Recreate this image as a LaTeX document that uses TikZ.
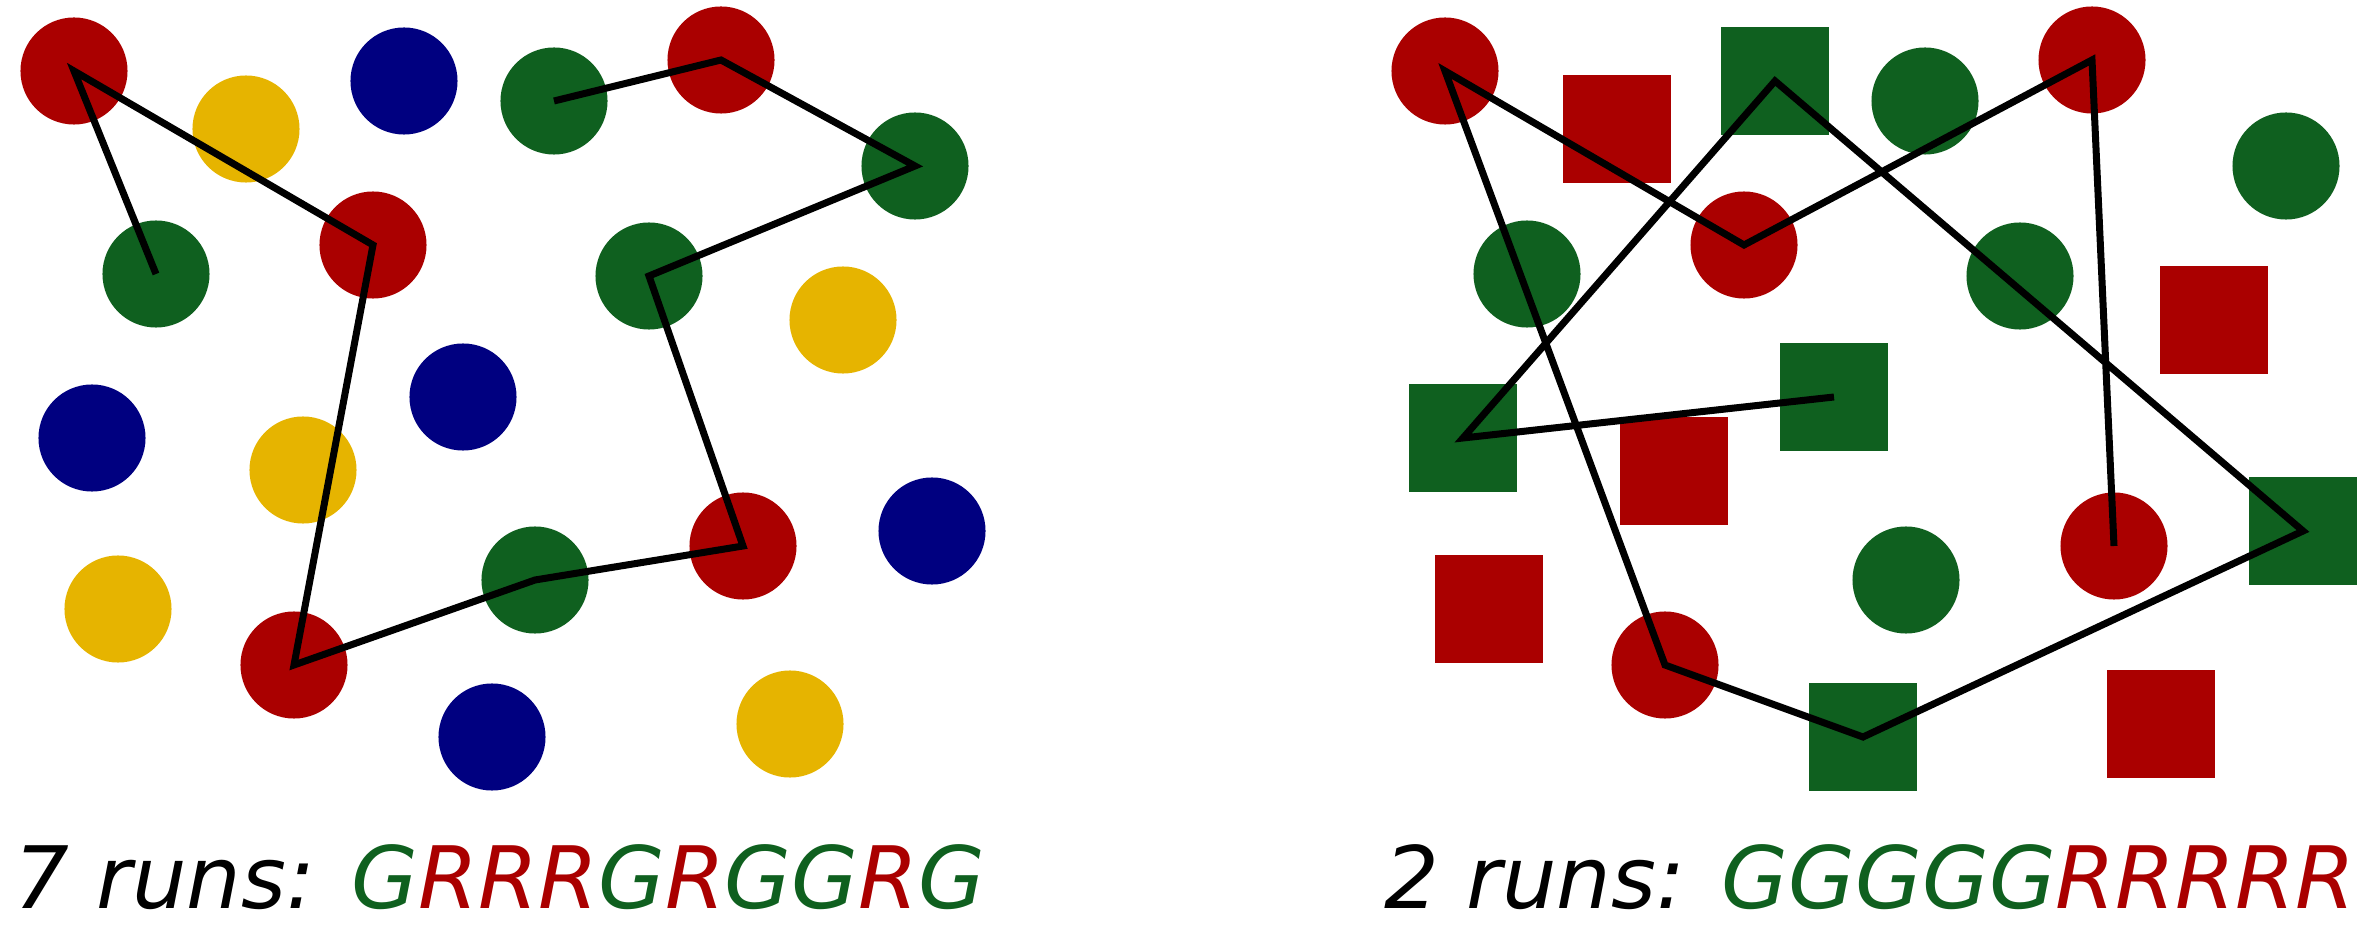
\documentclass[tikz,border=0pt]{standalone}
\usepackage{fontspec}
\setmainfont{DejaVu Sans}
\definecolor{rr}{HTML}{AA0000}
\definecolor{gg}{HTML}{0F601F}
\definecolor{bb}{HTML}{000080}
\definecolor{yy}{HTML}{E6B400}
\newcommand{\gG}{\textcolor{gg}{G}}
\newcommand{\rR}{\textcolor{rr}{R}}
\begin{document}
\begin{tikzpicture}[x=0.01cm,y=-0.01cm]
      \tikzstyle{every node}=[inner sep=0pt]
      \tikzstyle{dot}=[circle,minimum size=1.07cm]
      \tikzstyle{box}=[rectangle,minimum size=1.07cm]
      \tikzstyle{run}=[line width=0.07cm]
      \useasboundingbox (0,0) rectangle (2360,937);

      % left: four colours of dots
      \node[dot,fill=rr] (l1) at (74,71) {};
      \node[dot,fill=yy] (l2) at (246,129) {};
      \node[dot,fill=bb] (l3) at (404,81) {};
      \node[dot,fill=gg] (l4) at (554,101) {};
      \node[dot,fill=rr] (l5) at (721,60) {};
      \node[dot,fill=gg] (l6) at (915,166) {};
      \node[dot,fill=gg] (l7) at (156,274) {};
      \node[dot,fill=rr] (l8) at (373,245) {};
      \node[dot,fill=gg] (l9) at (649,276) {};
      \node[dot,fill=yy] (l10) at (843,320) {};
      \node[dot,fill=bb] (l11) at (92,438) {};
      \node[dot,fill=bb] (l12) at (463,397) {};
      \node[dot,fill=yy] (l13) at (303,470) {};
      \node[dot,fill=rr] (l14) at (743,546) {};
      \node[dot,fill=bb] (l15) at (932,531) {};
      \node[dot,fill=yy] (l16) at (118,609) {};
      \node[dot,fill=gg] (l17) at (535,580) {};
      \node[dot,fill=rr] (l18) at (294,665) {};
      \node[dot,fill=bb] (l19) at (492,737) {};
      \node[dot,fill=yy] (l20) at (790,724) {};

      % right: same places, dots and boxes
      \node[dot,fill=rr] (r1) at (1445,71) {};
      \node[box,fill=rr] (r2) at (1617,129) {};
      \node[box,fill=gg] (r3) at (1775,81) {};
      \node[dot,fill=gg] (r4) at (1925,101) {};
      \node[dot,fill=rr] (r5) at (2092,60) {};
      \node[dot,fill=gg] (r6) at (2286,166) {};
      \node[dot,fill=gg] (r7) at (1527,274) {};
      \node[dot,fill=rr] (r8) at (1744,245) {};
      \node[dot,fill=gg] (r9) at (2020,276) {};
      \node[box,fill=rr] (r10) at (2214,320) {};
      \node[box,fill=gg] (r11) at (1463,438) {};
      \node[box,fill=gg] (r12) at (1834,397) {};
      \node[box,fill=rr] (r13) at (1674,471) {};
      \node[dot,fill=rr] (r14) at (2114,546) {};
      \node[box,fill=gg] (r15) at (2303,531) {};
      \node[box,fill=rr] (r16) at (1489,609) {};
      \node[dot,fill=gg] (r17) at (1906,580) {};
      \node[dot,fill=rr] (r18) at (1665,665) {};
      \node[box,fill=gg] (r19) at (1863,737) {};
      \node[box,fill=rr] (r20) at (2161,724) {};

      \draw[run] (l7.center) -- (l1.center) -- (l8.center) -- (l18.center)
        -- (l17.center) -- (l14.center) -- (l9.center) -- (l6.center)
        -- (l5.center) -- (l4.center);
      \draw[run] (r12.center) -- (r11.center) -- (r3.center) -- (r15.center)
        -- (r19.center) -- (r18.center) -- (r1.center) -- (r8.center)
        -- (r5.center) -- (r14.center);

      \node[anchor=base west] (lcap) at (14,908)
        {\fontsize{24.5}{29}\selectfont\itshape 7 runs: \gG\rR\rR\rR\gG\rR\gG\gG\rR\gG};
      \node[anchor=base west] (rcap) at (1384,908)
        {\fontsize{24.5}{29}\selectfont\itshape 2 runs: \gG\gG\gG\gG\gG\rR\rR\rR\rR\rR};
    \end{tikzpicture}
\end{document}
